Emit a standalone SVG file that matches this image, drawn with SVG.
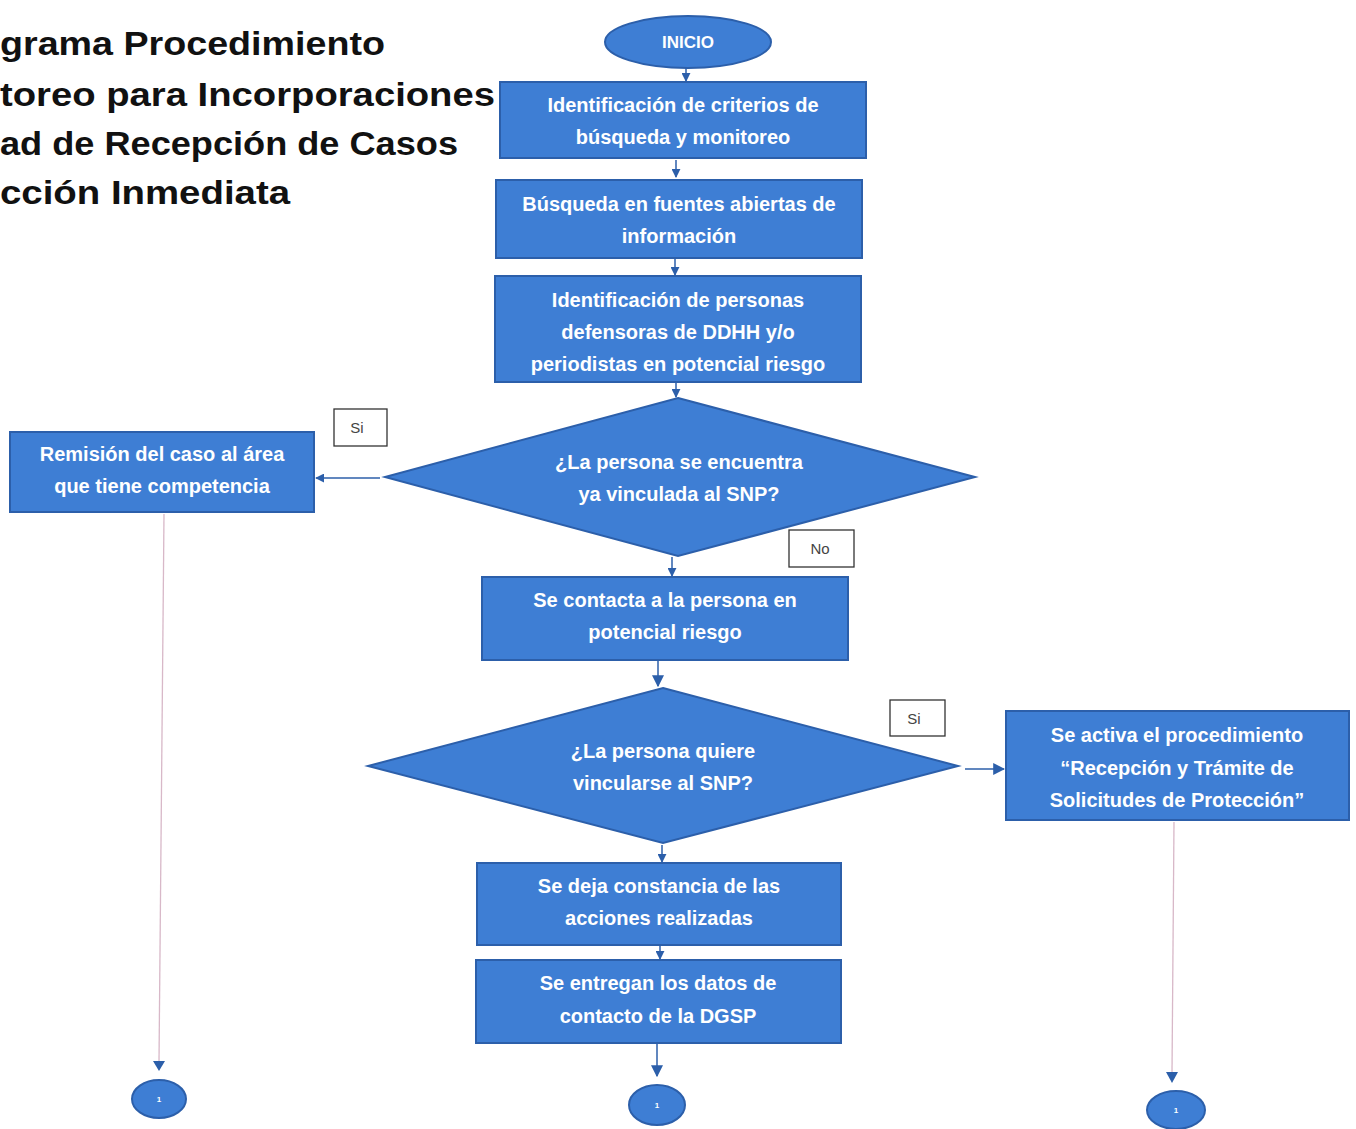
<svg xmlns="http://www.w3.org/2000/svg" width="1356" height="1129" viewBox="0 0 1356 1129">
<defs>
<style>
.title{font-family:"Liberation Sans",Arial,sans-serif;font-weight:bold;font-size:33px;fill:#111}
.n{fill:#3e7ed4;stroke:#2c5faa;stroke-width:2}
.t{font-family:"Liberation Sans",Arial,sans-serif;font-weight:bold;font-size:20px;fill:#fff;text-anchor:middle}
.lb{fill:#fff;stroke:#333;stroke-width:1.3}
.lt{font-family:"Liberation Sans",Arial,sans-serif;font-size:15px;fill:#444;text-anchor:middle}
.c{stroke:#2c5faa;stroke-width:1.5;fill:none}
.d{stroke:#d8b8c8;stroke-width:1.3;fill:none}
</style>
<marker id="ah" viewBox="0 0 10 10" refX="9" refY="5" markerWidth="9" markerHeight="9" markerUnits="userSpaceOnUse" orient="auto"><path d="M0,0 L10,5 L0,10 z" fill="#2c5faa"/></marker>
<marker id="ahb" viewBox="0 0 10 10" refX="9" refY="5" markerWidth="12" markerHeight="12" markerUnits="userSpaceOnUse" orient="auto"><path d="M0,0 L10,5 L0,10 z" fill="#2c5faa"/></marker>
</defs>
<rect width="1356" height="1129" fill="#fff"/>
<g id="title">
<text class="title" x="0" y="55" textLength="385" lengthAdjust="spacingAndGlyphs">grama Procedimiento</text>
<text class="title" x="0" y="106" textLength="495" lengthAdjust="spacingAndGlyphs">toreo para Incorporaciones</text>
<text class="title" x="0" y="155" textLength="458" lengthAdjust="spacingAndGlyphs">ad de Recepción de Casos</text>
<text class="title" x="0" y="204" textLength="290" lengthAdjust="spacingAndGlyphs">cción Inmediata</text>
</g>
<g id="connectors">
<line class="c" x1="686" y1="68" x2="686" y2="81" marker-end="url(#ah)"/>
<line class="c" x1="676" y1="160" x2="676" y2="177" marker-end="url(#ah)"/>
<line class="c" x1="675" y1="259" x2="675" y2="275" marker-end="url(#ah)"/>
<line class="c" x1="676" y1="383" x2="676" y2="397" marker-end="url(#ah)"/>
<line class="c" x1="380" y1="478" x2="316" y2="478" marker-end="url(#ah)"/>
<line class="c" x1="672" y1="557" x2="672" y2="576" marker-end="url(#ah)"/>
<line class="c" x1="658" y1="661" x2="658" y2="686" marker-end="url(#ahb)"/>
<line class="c" x1="965" y1="769" x2="1004" y2="769" marker-end="url(#ahb)"/>
<line class="c" x1="662" y1="845" x2="662" y2="862" marker-end="url(#ah)"/>
<line class="c" x1="660" y1="946" x2="660" y2="959" marker-end="url(#ah)"/>
<line class="c" x1="657" y1="1044" x2="657" y2="1076" marker-end="url(#ahb)"/>
<line class="d" x1="164" y1="514" x2="159" y2="1062"/>
<path d="M153,1061 L165,1061 L159,1071 z" fill="#2c5faa"/>
<line class="d" x1="1174" y1="822" x2="1172" y2="1073"/>
<path d="M1166,1072 L1178,1072 L1172,1083 z" fill="#2c5faa"/>
</g>
<g id="inicio"><ellipse class="n" cx="688" cy="42" rx="83" ry="26"/><text class="t" x="688" y="48" style="font-size:17px">INICIO</text></g>
<g id="box1"><rect class="n" x="500" y="82" width="366" height="76"/><text class="t" x="683" y="112">Identificación de criterios de</text><text class="t" x="683" y="144">búsqueda y monitoreo</text></g>
<g id="box2"><rect class="n" x="496" y="180" width="366" height="78"/><text class="t" x="679" y="211">Búsqueda en fuentes abiertas de</text><text class="t" x="679" y="243">información</text></g>
<g id="box3"><rect class="n" x="495" y="276" width="366" height="106"/><text class="t" x="678" y="307">Identificación de personas</text><text class="t" x="678" y="339">defensoras de DDHH y/o</text><text class="t" x="678" y="371">periodistas en potencial riesgo</text></g>
<g id="dec1"><polygon class="n" points="678,398 975,477 678,556 385,477"/><text class="t" x="679" y="469">¿La persona se encuentra</text><text class="t" x="679" y="501">ya vinculada al SNP?</text></g>
<g id="remision"><rect class="n" x="10" y="432" width="304" height="80"/><text class="t" x="162" y="461">Remisión del caso al área</text><text class="t" x="162" y="493">que tiene competencia</text></g>
<g id="lbl-si1"><rect class="lb" x="334" y="409" width="53" height="37"/><text class="lt" x="357" y="433">Si</text></g>
<g id="lbl-no"><rect class="lb" x="789" y="530" width="65" height="37"/><text class="lt" x="820" y="554">No</text></g>
<g id="box4"><rect class="n" x="482" y="577" width="366" height="83"/><text class="t" x="665" y="607">Se contacta a la persona en</text><text class="t" x="665" y="639">potencial riesgo</text></g>
<g id="dec2"><polygon class="n" points="663,688 958,766 663,843 368,766"/><text class="t" x="663" y="758">¿La persona quiere</text><text class="t" x="663" y="790">vincularse al SNP?</text></g>
<g id="lbl-si2"><rect class="lb" x="890" y="700" width="55" height="36"/><text class="lt" x="914" y="724">Si</text></g>
<g id="activa"><rect class="n" x="1006" y="711" width="343" height="109"/><text class="t" x="1177" y="742">Se activa el procedimiento</text><text class="t" x="1177" y="775">“Recepción y Trámite de</text><text class="t" x="1177" y="807">Solicitudes de Protección”</text></g>
<g id="box5"><rect class="n" x="477" y="863" width="364" height="82"/><text class="t" x="659" y="893">Se deja constancia de las</text><text class="t" x="659" y="925">acciones realizadas</text></g>
<g id="box6"><rect class="n" x="476" y="960" width="365" height="83"/><text class="t" x="658" y="990">Se entregan los datos de</text><text class="t" x="658" y="1023">contacto de la DGSP</text></g>
<g id="end1"><ellipse class="n" cx="159" cy="1099" rx="27" ry="19"/><text class="t" x="159" y="1102" style="font-size:8px">1</text></g>
<g id="end2"><ellipse class="n" cx="657" cy="1105" rx="28" ry="20"/><text class="t" x="657" y="1108" style="font-size:8px">1</text></g>
<g id="end3"><ellipse class="n" cx="1176" cy="1110" rx="29" ry="19"/><text class="t" x="1176" y="1113" style="font-size:8px">1</text></g>
</svg>
